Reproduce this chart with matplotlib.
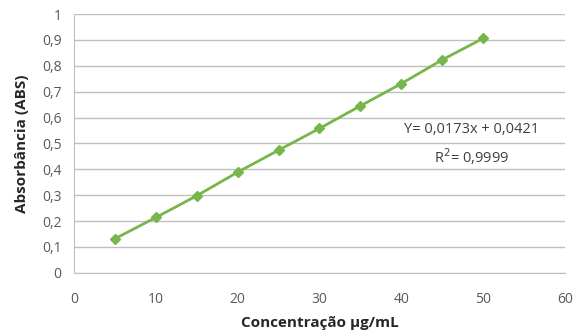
import matplotlib.pyplot as plt
from matplotlib.ticker import FuncFormatter

# Calibration curve data
conc = [5, 10, 15, 20, 25, 30, 35, 40, 45, 50]
absorb = [0.132, 0.214, 0.298, 0.389, 0.474, 0.558, 0.645, 0.731, 0.823, 0.906]
eq_text = "Y= 0,0173x + 0,0421"
r2_text = "R$^2$= 0,9999"

plt.rcParams['font.family'] = ['Open Sans', 'DejaVu Sans']

fig = plt.figure(figsize=(5.83, 3.34), dpi=100)
ax = fig.add_axes([0.127, 0.183, 0.842, 0.775])

ax.plot(conc, absorb, color='#77B64A', lw=2, marker='D', ms=5.5,
        markeredgecolor='#77B64A', markerfacecolor='#77B64A', zorder=3)

ax.set_xlim(0, 60)
ax.set_ylim(0, 1)
ax.set_xticks(range(0, 61, 10))
ax.set_yticks([i / 10 for i in range(11)])
ax.yaxis.set_major_formatter(FuncFormatter(lambda v, p: f"{v:g}".replace('.', ',')))

ax.grid(axis='y', color='#BFBFBF', lw=1)
ax.set_axisbelow(True)
for s in ['top', 'right']:
    ax.spines[s].set_visible(False)
for s in ['left', 'bottom']:
    ax.spines[s].set_color('#BFBFBF')
ax.tick_params(length=0, colors='#595959', labelsize=10, pad=9)
ax.tick_params(axis='x', pad=14)

ax.set_xlabel("Concentração µg/mL", fontsize=11, fontweight='bold', color='#262626', labelpad=6)
ax.set_ylabel("Absorbância (ABS)", fontsize=11, fontweight='bold', color='#262626', labelpad=9)

ax.text(48.6, 0.555, eq_text, ha='center', va='center', fontsize=10.5, color='#404040')
ax.text(48.6, 0.45, r2_text, ha='center', va='center', fontsize=10.5, color='#404040')

fig.savefig('out.png', dpi=100)
